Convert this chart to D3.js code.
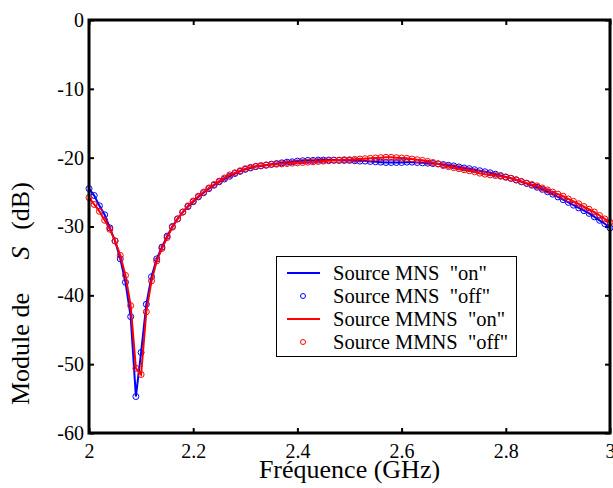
<!DOCTYPE html>
<html><head><meta charset="utf-8">
<script src="https://cdn.jsdelivr.net/npm/d3@7"></script>
<style>body{margin:0;background:#fff;} svg{display:block;}</style>
</head><body>
<svg id="chart" width="613" height="488"></svg>
<script>
const freqStart = 2.0, freqStep = 0.01;
const mnsValues = [
-24.5,-25.5,-27.0,-28.3,-30.2,-32.1,-34.7,-38.1,-43.1,-54.7,
-48.3,-41.3,-37.3,-34.7,-33.0,-31.4,-30.0,-28.9,-27.9,-27.1,
-26.4,-25.7,-25.1,-24.5,-24.0,-23.5,-23.1,-22.7,-22.3,-22.0,
-21.7,-21.5,-21.3,-21.2,-21.1,-20.95,-20.85,-20.75,-20.65,-20.6,
-20.5,-20.45,-20.4,-20.4,-20.35,-20.35,-20.35,-20.35,-20.4,-20.4,
-20.4,-20.45,-20.5,-20.5,-20.55,-20.6,-20.65,-20.7,-20.7,-20.7,
-20.7,-20.65,-20.65,-20.7,-20.75,-20.8,-20.85,-20.9,-21.0,-21.1,
-21.2,-21.35,-21.5,-21.6,-21.75,-21.9,-22.05,-22.2,-22.4,-22.6,
-22.8,-23.0,-23.25,-23.5,-23.75,-24.0,-24.3,-24.6,-24.95,-25.3,
-25.7,-26.1,-26.5,-26.9,-27.3,-27.7,-28.1,-28.6,-29.1,-29.6,
-30.2];
const mmnsValues = [
-25.8,-26.8,-27.8,-29.1,-30.4,-32.1,-34.2,-37.1,-41.5,-50.6,
-51.5,-42.4,-37.9,-35.0,-33.2,-31.6,-30.1,-28.9,-27.9,-27.0,
-26.3,-25.6,-25.0,-24.4,-23.9,-23.4,-22.95,-22.5,-22.2,-21.9,
-21.6,-21.4,-21.25,-21.15,-21.05,-21.0,-20.95,-20.9,-20.85,-20.8,
-20.75,-20.7,-20.65,-20.6,-20.55,-20.5,-20.45,-20.4,-20.35,-20.3,
-20.3,-20.25,-20.2,-20.15,-20.1,-20.05,-20.0,-19.95,-19.95,-20.0,
-20.05,-20.1,-20.2,-20.3,-20.4,-20.55,-20.7,-20.9,-21.15,-21.3,
-21.45,-21.6,-21.75,-21.9,-22.05,-22.25,-22.4,-22.5,-22.6,-22.7,
-22.85,-23.0,-23.2,-23.45,-23.7,-23.9,-24.1,-24.4,-24.7,-25.0,
-25.3,-25.6,-26.0,-26.35,-26.7,-27.1,-27.5,-27.9,-28.4,-28.9,
-29.4];
const xTicks = [2, 2.2, 2.4, 2.6, 2.8, 3];
const xTickLabels = ["2","2.2","2.4","2.6","2.8","3"];
const yTicks = [0,-10,-20,-30,-40,-50,-60];
const yTickLabels = ["0","-10","-20","-30","-40","-50","-60"];
const legendLabels = ['Source MNS  "on"','Source MNS  "off"','Source MMNS  "on"','Source MMNS  "off"'];
const seriesColors = ["#0000ff","#ff0000"];

const svg = d3.select("#chart");
const m = {l:89, r:610, t:20, b:433};
const x = d3.scaleLinear().domain([2,3]).range([m.l, m.r]);
const y = d3.scaleLinear().domain([-60,0]).range([m.b, m.t]);
const font = "Liberation Serif";

const series = [mnsValues, mmnsValues].map(vals => vals.map((v,i)=>({f: freqStart + i*freqStep, v})));

// axes
const tickLen = 5;
const axB = svg.append("g").attr("transform",`translate(0,${m.b})`)
  .call(d3.axisBottom(x).tickValues(xTicks).tickFormat((d,i)=>xTickLabels[i]).tickSizeInner(-tickLen).tickSizeOuter(0).tickPadding(11));
const axT = svg.append("g").attr("transform",`translate(0,${m.t})`)
  .call(d3.axisTop(x).tickValues(xTicks).tickFormat("").tickSizeInner(-tickLen).tickSizeOuter(0));
const axL = svg.append("g").attr("transform",`translate(${m.l},0)`)
  .call(d3.axisLeft(y).tickValues(yTicks).tickFormat((d,i)=>yTickLabels[i]).tickSizeInner(-tickLen).tickSizeOuter(0).tickPadding(5));
const axR = svg.append("g").attr("transform",`translate(${m.r},0)`)
  .call(d3.axisRight(y).tickValues(yTicks).tickFormat("").tickSizeInner(-tickLen).tickSizeOuter(0));
[axB,axT,axL,axR].forEach(a=>{
  a.attr("font-family",font);
  a.select(".domain").remove();
  a.selectAll("line").attr("stroke","#000").attr("stroke-width",2);
  a.selectAll("text").attr("font-family",font).attr("font-size",20).attr("fill","#000");
});

// data
const line = d3.line().x(d=>x(d.f)).y(d=>y(d.v));
series.forEach((s,k)=>{
  svg.append("path").datum(s).attr("d",line).attr("fill","none")
    .attr("stroke",seriesColors[k]).attr("stroke-width",2);
  svg.append("g").selectAll("circle").data(s).join("circle")
    .attr("cx",d=>x(d.f)).attr("cy",d=>y(d.v)).attr("r",3)
    .attr("fill","none").attr("stroke",seriesColors[k]).attr("stroke-width",1);
});

// frame
svg.append("rect").attr("x",m.l).attr("y",m.t).attr("width",m.r-m.l).attr("height",m.b-m.t)
  .attr("fill","none").attr("stroke","#000").attr("stroke-width",3);

// legend
const lg = svg.append("g");
lg.append("rect").attr("x",276.5).attr("y",256.5).attr("width",240).attr("height",100)
  .attr("fill","#fff").attr("stroke","#000").attr("stroke-width",1);
legendLabels.forEach((t,i)=>{
  const yy = 273 + i*23;
  const c = seriesColors[Math.floor(i/2)];
  if(i%2===0){
    lg.append("line").attr("x1",287).attr("x2",320).attr("y1",yy).attr("y2",yy)
      .attr("stroke",c).attr("stroke-width",2);
  } else {
    lg.append("circle").attr("cx",303).attr("cy",yy).attr("r",2.5)
      .attr("fill","none").attr("stroke",c).attr("stroke-width",1);
  }
  lg.append("text").attr("x",333).attr("y",yy+7).attr("font-family",font)
    .attr("font-size",20.5).attr("fill","#000").attr("xml:space","preserve").text(t);
});

// axis labels
svg.append("text").attr("x",(m.l+m.r)/2).attr("y",478).attr("text-anchor","middle")
  .attr("font-family",font).attr("font-size",26).text("Fréquence (GHz)");
const ylParts = [
  {t:"Module de", pos:405, anchor:"start", italic:false},
  {t:"S", pos:253, anchor:"middle", italic:true},
  {t:"(dB)", pos:206, anchor:"middle", italic:false}
];
ylParts.forEach(p=>{
  svg.append("text").attr("transform",`translate(28.5,${p.pos}) rotate(-90)`)
    .attr("text-anchor",p.anchor).attr("font-family",font).attr("font-size",26)
    .attr("font-style",p.italic?"italic":"normal").text(p.t);
});
</script>
</body></html>
